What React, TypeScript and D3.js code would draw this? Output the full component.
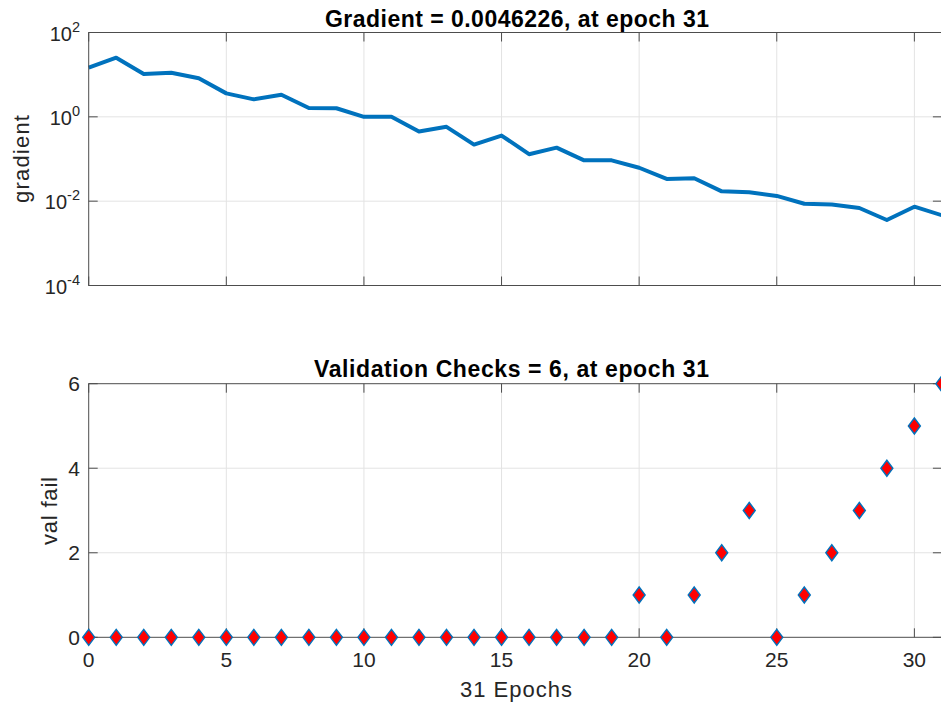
import { useEffect, useRef } from "react"
import * as d3 from "d3"

const epochs = d3.range(0, 32)
const gradient = [
  14.6, 25.3, 10.4, 11.1, 8.2, 3.6, 2.6, 3.35, 1.62, 1.6, 1.0, 1.0, 0.45, 0.58, 0.22, 0.36,
  0.13, 0.186, 0.093, 0.093, 0.062, 0.0336, 0.035, 0.0171, 0.0162, 0.0133, 0.0087, 0.0083,
  0.0069, 0.00358, 0.0074, 0.0046226,
]
const valFail = [
  0, 0, 0, 0, 0, 0, 0, 0, 0, 0, 0, 0, 0, 0, 0, 0, 0, 0, 0, 0, 1, 0, 1, 2, 3, 0, 1, 2, 3, 4, 5, 6,
]
const xTicks = [0, 5, 10, 15, 20, 25, 30]
const logTicks = [2, 0, -2, -4]
const linTicks = [0, 2, 4, 6]

const FONT = "'Liberation Sans', Arial, Helvetica, sans-serif"
const BLUE = "#0072BD"
const AXIS = "#4d4d4d"
const GRID = "#e3e3e3"
const TEXT = "#262626"

export default function App() {
  const svgRef = useRef<SVGSVGElement>(null)

  useEffect(() => {
    if (!svgRef.current) return
    const svg = d3.select(svgRef.current)
    svg.selectAll("*").remove()

    svg.attr("width", 941).attr("height", 705)

    const left = 88.7
    const right = 941.9
    const tick = 9

    const x = d3.scaleLinear().domain([0, 31]).range([left, right])

    // ---- Top panel: gradient (log scale)
    const top1 = 32.5
    const bot1 = 285.5
    const y1 = d3.scaleLog().domain([1e-4, 1e2]).range([bot1, top1])

    const g1 = svg.append("g")

    // grid
    xTicks.slice(1).forEach((t) => {
      g1.append("line")
        .attr("x1", x(t)).attr("x2", x(t))
        .attr("y1", top1).attr("y2", bot1)
        .attr("stroke", GRID).attr("stroke-width", 1)
    })
    logTicks.slice(1, 3).forEach((e) => {
      g1.append("line")
        .attr("x1", left).attr("x2", right)
        .attr("y1", y1(Math.pow(10, e))).attr("y2", y1(Math.pow(10, e)))
        .attr("stroke", GRID).attr("stroke-width", 1)
    })

    // line
    const line = d3
      .line<number>()
      .x((_, i) => x(epochs[i]))
      .y((d) => y1(d))
    g1.append("path")
      .datum(gradient)
      .attr("fill", "none")
      .attr("stroke", BLUE)
      .attr("stroke-width", 4)
      .attr("stroke-linejoin", "round")
      .attr("d", line)

    // box + ticks
    g1.append("rect")
      .attr("x", left).attr("y", top1)
      .attr("width", right - left).attr("height", bot1 - top1)
      .attr("fill", "none").attr("stroke", AXIS).attr("stroke-width", 1)
    xTicks.forEach((t) => {
      g1.append("line").attr("x1", x(t)).attr("x2", x(t)).attr("y1", bot1).attr("y2", bot1 - tick).attr("stroke", AXIS)
      g1.append("line").attr("x1", x(t)).attr("x2", x(t)).attr("y1", top1).attr("y2", top1 + tick).attr("stroke", AXIS)
    })
    logTicks.forEach((e) => {
      const yy = y1(Math.pow(10, e))
      g1.append("line").attr("x1", left).attr("x2", left + tick).attr("y1", yy).attr("y2", yy).attr("stroke", AXIS)
      g1.append("line").attr("x1", right).attr("x2", right - tick).attr("y1", yy).attr("y2", yy).attr("stroke", AXIS)
      const txt = g1.append("text")
        .attr("x", 80).attr("y", yy + 8)
        .attr("text-anchor", "end")
        .attr("font-family", FONT).attr("font-size", 20).attr("fill", TEXT)
      txt.append("tspan").text("10")
      txt.append("tspan").attr("dy", -9).attr("font-size", 14.5).text(e < 0 ? `-${-e}` : `${e}`)
    })

    g1.append("text")
      .attr("x", 325).attr("y", 26.5)
      .attr("textLength", 384).attr("lengthAdjust", "spacing")
      .attr("font-family", FONT).attr("font-size", 23).attr("font-weight", "bold").attr("fill", "#000")
      .text("Gradient = 0.0046226, at epoch 31")

    g1.append("text")
      .attr("transform", `translate(29,${203}) rotate(-90)`)
      .attr("textLength", 88).attr("lengthAdjust", "spacing")
      .attr("font-family", FONT).attr("font-size", 22).attr("fill", TEXT)
      .text("gradient")

    // ---- Bottom panel: validation checks
    const top2 = 383.7
    const bot2 = 637.3
    const y2 = d3.scaleLinear().domain([0, 6]).range([bot2, top2])
    const g2 = svg.append("g")

    xTicks.slice(1).forEach((t) => {
      g2.append("line")
        .attr("x1", x(t)).attr("x2", x(t))
        .attr("y1", top2).attr("y2", bot2)
        .attr("stroke", GRID).attr("stroke-width", 1)
    })
    linTicks.slice(1, 3).forEach((v) => {
      g2.append("line")
        .attr("x1", left).attr("x2", right)
        .attr("y1", y2(v)).attr("y2", y2(v))
        .attr("stroke", GRID).attr("stroke-width", 1)
    })

    g2.append("rect")
      .attr("x", left).attr("y", top2)
      .attr("width", right - left).attr("height", bot2 - top2)
      .attr("fill", "none").attr("stroke", AXIS).attr("stroke-width", 1)
    xTicks.forEach((t) => {
      g2.append("line").attr("x1", x(t)).attr("x2", x(t)).attr("y1", bot2).attr("y2", bot2 - tick).attr("stroke", AXIS)
      g2.append("line").attr("x1", x(t)).attr("x2", x(t)).attr("y1", top2).attr("y2", top2 + tick).attr("stroke", AXIS)
      g2.append("text")
        .attr("x", x(t)).attr("y", 667)
        .attr("text-anchor", "middle")
        .attr("font-family", FONT).attr("font-size", 21).attr("fill", TEXT)
        .text(String(t))
    })
    linTicks.forEach((v) => {
      const yy = y2(v)
      g2.append("line").attr("x1", left).attr("x2", left + tick).attr("y1", yy).attr("y2", yy).attr("stroke", AXIS)
      g2.append("line").attr("x1", right).attr("x2", right - tick).attr("y1", yy).attr("y2", yy).attr("stroke", AXIS)
      g2.append("text")
        .attr("x", 80).attr("y", yy + 7.5)
        .attr("text-anchor", "end")
        .attr("font-family", FONT).attr("font-size", 21).attr("fill", TEXT)
        .text(String(v))
    })

    // diamonds
    const hw = 6
    const hh = 8
    g2.selectAll(".dia")
      .data(valFail)
      .enter()
      .append("path")
      .attr("class", "dia")
      .attr("d", (d, i) => {
        const cx = x(epochs[i])
        const cy = y2(d)
        return `M${cx},${cy - hh}L${cx + hw},${cy}L${cx},${cy + hh}L${cx - hw},${cy}Z`
      })
      .attr("fill", "#ff0000")
      .attr("stroke", BLUE)
      .attr("stroke-width", 1.4)

    g2.append("text")
      .attr("x", 314).attr("y", 376.7)
      .attr("textLength", 395).attr("lengthAdjust", "spacing")
      .attr("font-family", FONT).attr("font-size", 23).attr("font-weight", "bold").attr("fill", "#000")
      .text("Validation Checks = 6, at epoch 31")

    g2.append("text")
      .attr("transform", `translate(57,${545}) rotate(-90)`)
      .attr("textLength", 68).attr("lengthAdjust", "spacing")
      .attr("font-family", FONT).attr("font-size", 22).attr("fill", TEXT)
      .text("val fail")

    g2.append("text")
      .attr("x", 460).attr("y", 697.3)
      .attr("textLength", 112).attr("lengthAdjust", "spacing")
      .attr("font-family", FONT).attr("font-size", 22).attr("fill", TEXT)
      .text("31 Epochs")
  }, [])

  return (
    <div style={{ position: "absolute", left: 0, top: 0, width: 941, height: 705, background: "#fff" }}>
      <svg ref={svgRef} style={{ display: "block" }} />
    </div>
  )
}
